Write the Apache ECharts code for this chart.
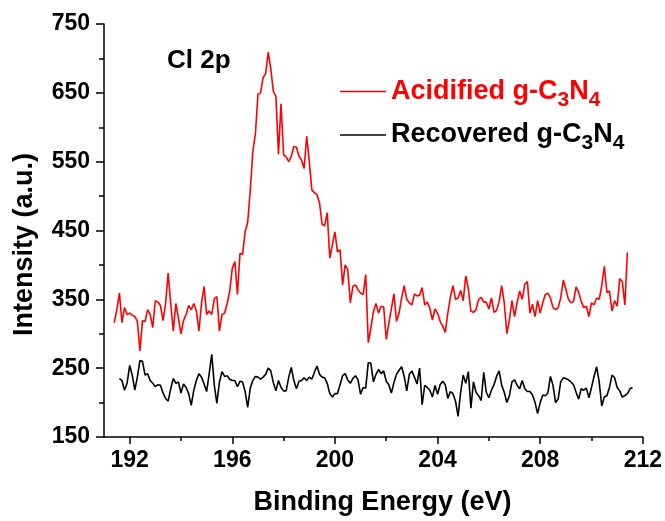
<!DOCTYPE html>
<html>
<head>
<meta charset="utf-8">
<title>Cl 2p</title>
<script src="https://cdn.jsdelivr.net/npm/echarts@6.0.0/dist/echarts.min.js"></script>
<style>
    html, body { margin: 0; padding: 0; background: #fff; }
    #xps { width: 665px; height: 521px; }
</style>
</head>
<body>
<div id="xps"></div>
<script>
// binding energy grid (eV), 0.1 eV step
var energy = [
    191.4, 191.5, 191.6, 191.7, 191.8, 191.9, 192.0, 192.1, 192.2, 192.3,
    192.4, 192.5, 192.6, 192.7, 192.8, 192.9, 193.0, 193.1, 193.2, 193.3,
    193.4, 193.5, 193.6, 193.7, 193.8, 193.9, 194.0, 194.1, 194.2, 194.3,
    194.4, 194.5, 194.6, 194.7, 194.8, 194.9, 195.0, 195.1, 195.2, 195.3,
    195.4, 195.5, 195.6, 195.7, 195.8, 195.9, 196.0, 196.1, 196.2, 196.3,
    196.4, 196.5, 196.6, 196.7, 196.8, 196.9, 197.0, 197.1, 197.2, 197.3,
    197.4, 197.5, 197.6, 197.7, 197.8, 197.9, 198.0, 198.1, 198.2, 198.3,
    198.4, 198.5, 198.6, 198.7, 198.8, 198.9, 199.0, 199.1, 199.2, 199.3,
    199.4, 199.5, 199.6, 199.7, 199.8, 199.9, 200.0, 200.1, 200.2, 200.3,
    200.4, 200.5, 200.6, 200.7, 200.8, 200.9, 201.0, 201.1, 201.2, 201.3,
    201.4, 201.5, 201.6, 201.7, 201.8, 201.9, 202.0, 202.1, 202.2, 202.3,
    202.4, 202.5, 202.6, 202.7, 202.8, 202.9, 203.0, 203.1, 203.2, 203.3,
    203.4, 203.5, 203.6, 203.7, 203.8, 203.9, 204.0, 204.1, 204.2, 204.3,
    204.4, 204.5, 204.6, 204.7, 204.8, 204.9, 205.0, 205.1, 205.2, 205.3,
    205.4, 205.5, 205.6, 205.7, 205.8, 205.9, 206.0, 206.1, 206.2, 206.3,
    206.4, 206.5, 206.6, 206.7, 206.8, 206.9, 207.0, 207.1, 207.2, 207.3,
    207.4, 207.5, 207.6, 207.7, 207.8, 207.9, 208.0, 208.1, 208.2, 208.3,
    208.4, 208.5, 208.6, 208.7, 208.8, 208.9, 209.0, 209.1, 209.2, 209.3,
    209.4, 209.5, 209.6, 209.7, 209.8, 209.9, 210.0, 210.1, 210.2, 210.3,
    210.4, 210.5, 210.6, 210.7, 210.8, 210.9, 211.0, 211.1, 211.2, 211.3,
    211.4, 211.5, 211.6
];

// acidified sample, 191.4 -> 211.4 eV
var acidified = [
    316, 335, 359, 316, 338, 328, 330, 327, 325, 318,
    275, 319, 318, 335, 328, 309, 348, 346, 341, 319,
    344, 388, 344, 304, 344, 323, 300, 319, 328, 341,
    335, 344, 333, 304, 344, 369, 328, 333, 328, 351,
    354, 304, 328, 330, 344, 362, 395, 405, 357, 417,
    415, 448, 462, 508, 565, 590, 648, 650, 672, 678,
    709, 685, 652, 645, 561, 634, 560, 557, 550, 558,
    572, 571, 558, 552, 540, 587, 550, 509, 505, 502,
    490, 459, 457, 476, 410, 429, 448, 419, 422, 371,
    400, 393, 345, 369, 371, 364, 359, 357, 386, 287,
    308, 332, 344, 330, 340, 339, 292, 315, 336, 358,
    318, 330, 352, 370, 350, 345, 342, 358, 355, 356,
    367, 342, 346, 337, 320, 336, 330, 318, 311, 302,
    330, 353, 370, 350, 352, 363, 348, 384, 365, 333,
    331, 335, 350, 353, 346, 346, 336, 352, 331, 334,
    347, 370, 345, 300, 320, 348, 325, 345, 362, 350,
    372, 376, 330, 343, 325, 348, 330, 345, 357, 359,
    352, 338, 335, 338, 352, 378, 365, 350, 345, 347,
    368, 360, 347, 338, 340, 325, 345, 342, 352, 350,
    370, 398, 360, 362, 333, 348, 340, 380, 376, 342,
    418
];

// recovered sample, 191.6 -> 211.6 eV
var recovered = [
    235, 232, 218, 228, 254, 240, 218, 237, 261, 260,
    240, 242, 232, 228, 223, 226, 225, 214, 206, 202,
    220, 235, 228, 230, 214, 227, 222, 213, 196, 218,
    232, 242, 237, 227, 216, 242, 270, 225, 199, 230,
    245, 238, 239, 234, 232, 232, 223, 231, 230, 216,
    193, 221, 232, 238, 237, 234, 237, 241, 250, 246,
    229, 217, 232, 222, 217, 217, 237, 251, 232, 220,
    231, 232, 236, 232, 237, 234, 244, 253, 241, 237,
    236, 228, 213, 208, 213, 213, 226, 239, 242, 233,
    228, 235, 239, 233, 212, 222, 221, 258, 257, 230,
    241, 248, 242, 246, 231, 226, 214, 229, 241, 247,
    252, 238, 217, 241, 246, 237, 227, 250, 197, 225,
    222, 218, 208, 225, 212, 226, 231, 226, 206, 216,
    213, 202, 180, 215, 240, 228, 245, 192, 230, 215,
    210, 203, 244, 215, 207, 218, 226, 238, 246, 225,
    215, 200, 210, 230, 233, 225, 220, 232, 220, 216,
    216, 211, 200, 184, 200, 211, 210, 214, 238, 225,
    200, 205, 230, 236, 235, 233, 230, 226, 215, 205,
    220, 218, 221, 207, 222, 238, 252, 230, 195, 208,
    210, 222, 240, 236, 222, 217, 208, 210, 213, 220,
    222
];

// tick labels
var xMajorTicks = [192, 196, 200, 204, 208, 212];
var xMinorTicks = [194, 198, 202, 206, 210];

var FONT = "'Liberation Sans', Arial, sans-serif";

function pairs(offset, values) {
    var out = [];
    for (var i = 0; i < values.length; i++) {
        out.push([energy[i + offset], values[i]]);
    }
    return out;
}

var myChart = echarts.init(document.getElementById('xps'));

var option = {
    backgroundColor: '#fff',
    animation: false,
    grid: {
        left: 104,
        right: 22,
        top: 24,
        bottom: 81
    },
    legend: {
        orient: 'vertical',
        left: 335,
        top: 73,
        icon: 'rect',
        itemWidth: 46,
        itemHeight: 1.6,
        itemGap: 11,
        data: ['Acidified', 'Recovered'],
        formatter: function (name) {
            if (name === 'Acidified') {
                return '{r|Acidified g-C}{rs|3}{r|N}{rs|4}';
            }
            return '{k|Recovered g-C}{ks|3}{k|N}{ks|4}';
        },
        textStyle: {
            rich: {
                r: { color: '#ff0000', fontSize: 27, fontWeight: 'bold', fontFamily: FONT, lineHeight: 38 },
                rs: { color: '#ff0000', fontSize: 21, fontWeight: 'bold', fontFamily: FONT, lineHeight: 16, verticalAlign: 'bottom' },
                k: { color: '#000', fontSize: 27, fontWeight: 'bold', fontFamily: FONT, lineHeight: 38 },
                ks: { color: '#000', fontSize: 21, fontWeight: 'bold', fontFamily: FONT, lineHeight: 16, verticalAlign: 'bottom' }
            }
        }
    },
    graphic: [{
        type: 'text',
        left: 167,
        top: 48,
        style: {
            text: 'Cl 2p',
            font: 'bold 26px ' + FONT,
            fill: '#000'
        }
    }],
    xAxis: [{
        type: 'value',
        min: 191,
        max: 212,
        position: 'bottom',
        name: 'Binding Energy (eV)',
        nameLocation: 'middle',
        nameGap: 52,
        nameTextStyle: {
            fontSize: 27,
            fontWeight: 'bold',
            fontFamily: FONT,
            color: '#000',
            padding: [0, 0, 0, 18]
        },
        axisLine: { lineStyle: { color: '#000', width: 1.5 } },
        axisTick: { length: 7, lineStyle: { color: '#000', width: 1.5 }, customValues: xMajorTicks },
        axisLabel: {
            customValues: xMajorTicks,
            margin: 12,
            fontSize: 23,
            fontWeight: 'bold',
            fontFamily: FONT,
            color: '#000'
        },
        splitLine: { show: false }
    }, {
        // minor ticks only
        type: 'value',
        min: 191,
        max: 212,
        position: 'bottom',
        axisLine: { show: false },
        axisTick: { length: 4, lineStyle: { color: '#000', width: 1.5 }, customValues: xMinorTicks },
        axisLabel: { show: false },
        splitLine: { show: false }
    }],
    yAxis: {
        type: 'value',
        min: 150,
        max: 750,
        interval: 100,
        name: 'Intensity (a.u.)',
        nameLocation: 'middle',
        nameGap: 66,
        nameTextStyle: {
            fontSize: 27,
            fontWeight: 'bold',
            fontFamily: FONT,
            color: '#000',
            padding: [0, 28, 0, 0]
        },
        axisLine: { show: true, lineStyle: { color: '#000', width: 1.5 } },
        axisTick: { show: true, length: 8, lineStyle: { color: '#000', width: 1.5 } },
        minorTick: { show: true, splitNumber: 2, length: 5, lineStyle: { color: '#000', width: 1.5 } },
        axisLabel: {
            margin: 14,
            fontSize: 23,
            fontWeight: 'bold',
            fontFamily: FONT,
            color: '#000'
        },
        splitLine: { show: false }
    },
    series: [{
        name: 'Acidified',
        type: 'line',
        symbol: 'none',
        lineStyle: { color: '#ff0000', width: 1.6 },
        itemStyle: { color: '#ff0000' },
        data: pairs(0, acidified)
    }, {
        name: 'Recovered',
        type: 'line',
        symbol: 'none',
        lineStyle: { color: '#000', width: 1.6 },
        itemStyle: { color: '#000' },
        data: pairs(2, recovered)
    }]
};

myChart.setOption(option);
</script>
</body>
</html>
